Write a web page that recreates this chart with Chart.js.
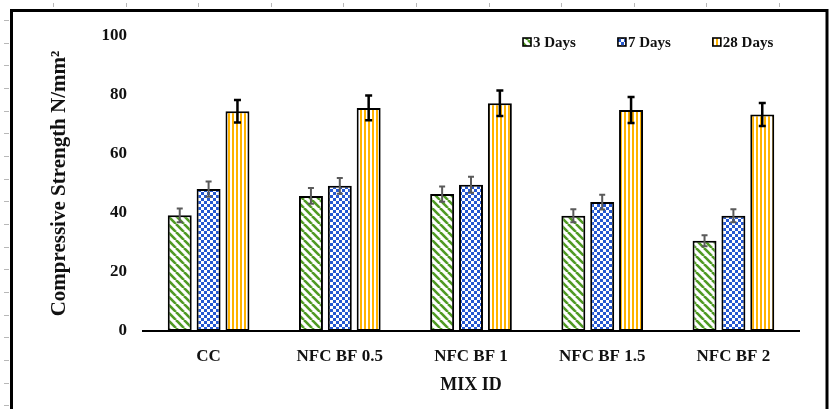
<!DOCTYPE html>
<html><head><meta charset="utf-8">
<script src="https://cdn.jsdelivr.net/npm/chart.js@4.4.1/dist/chart.umd.min.js"></script>
<style>html,body{margin:0;padding:0;background:#fff;overflow:hidden}#wrap{width:830px;height:409px;position:relative}</style>
</head><body><div id="wrap"><canvas id="c" width="830" height="409"></canvas></div>
<script>
const categories = ['CC', 'NFC BF 0.5', 'NFC BF 1', 'NFC BF 1.5', 'NFC BF 2'];
const seriesNames = ['3 Days', '7 Days', '28 Days'];
const days3 = [39.2, 45.8, 46.4, 39.1, 30.6];
const days7 = [48.1, 49.2, 49.6, 43.7, 39.1];
const days28 = [74.5, 75.6, 77.2, 74.9, 73.4];
const err3 = [2.3, 2.7, 2.6, 2.2, 1.9];
const err7 = [2.6, 2.7, 2.7, 2.5, 2.2];
const err28 = [3.8, 4.2, 4.3, 4.4, 3.9];
const yTicks = [0, 20, 40, 60, 80, 100];

const SERIF = "'Liberation Serif', 'Times New Roman', serif";
const canvas = document.getElementById('c');
const ctx0 = canvas.getContext('2d');

function mkPattern(w, h, draw) {
  const c = document.createElement('canvas');
  c.width = w; c.height = h;
  const g = c.getContext('2d');
  g.fillStyle = '#fff'; g.fillRect(0, 0, w, h);
  draw(g);
  return ctx0.createPattern(c, 'repeat');
}
const greenPat = mkPattern(8, 8, g => {
  g.strokeStyle = '#4f9a23'; g.lineWidth = 2.6;
  for (let k = -1; k <= 1; k++) { g.beginPath(); g.moveTo(k * 8, 0); g.lineTo(k * 8 + 8, 8); g.stroke(); }
});
const bluePat = mkPattern(6, 6, g => {
  g.fillStyle = '#2457d0'; g.fillRect(0, 0, 6, 6);
  g.fillStyle = '#fff'; g.fillRect(0, 0, 3, 3); g.fillRect(3, 3, 3, 3);
});
const orangePat = mkPattern(4, 1, g => {
  g.fillStyle = '#ffb300'; g.fillRect(0, 0, 2, 1);
});

const errors = [err3, err7, err28];
const errStyle = [
  { color: '#5a5a5a', width: 2, cap: 3 },
  { color: '#5a5a5a', width: 2, cap: 3 },
  { color: '#000000', width: 2.5, cap: 3.5 }
];

const errorBars = {
  id: 'errorBars',
  afterDatasetsDraw(chart) {
    const { ctx } = chart;
    const ys = chart.scales.y;
    chart.data.datasets.forEach((ds, i) => {
      const meta = chart.getDatasetMeta(i);
      const st = errStyle[i];
      meta.data.forEach((bar, j) => {
        const v = ds.data[j], e = errors[i][j];
        const yT = ys.getPixelForValue(v + e), yB = ys.getPixelForValue(v - e);
        ctx.save();
        ctx.strokeStyle = st.color; ctx.lineWidth = st.width;
        ctx.beginPath();
        ctx.moveTo(bar.x, yT); ctx.lineTo(bar.x, yB);
        ctx.moveTo(bar.x - st.cap, yT); ctx.lineTo(bar.x + st.cap, yT);
        ctx.moveTo(bar.x - st.cap, yB); ctx.lineTo(bar.x + st.cap, yB);
        ctx.stroke();
        ctx.restore();
      });
    });
  }
};

const legendBoxes = {
  id: 'legendBoxes',
  afterDraw(chart) {
    const { ctx, chartArea } = chart;
    ctx.save();
    ctx.font = 'bold 15px ' + SERIF;
    ctx.textBaseline = 'middle';
    ctx.textAlign = 'left';
    let x = chartArea.right - 276;
    const yc = 42;
    chart.data.datasets.forEach(ds => {
      ctx.fillStyle = ds.backgroundColor;
      ctx.fillRect(x, yc - 4, 8, 8);
      ctx.strokeStyle = '#000'; ctx.lineWidth = 1.6;
      ctx.strokeRect(x, yc - 4, 8, 8);
      ctx.fillStyle = '#111';
      ctx.fillText(ds.label, x + 10, yc + 1);
      x += 10 + ctx.measureText(ds.label).width + 42;
    });
    ctx.restore();
  }
};

const frame = {
  id: 'frame',
  beforeDraw(chart) {
    const { ctx } = chart;
    ctx.save();
    ctx.fillStyle = '#fff'; ctx.fillRect(0, 0, 830, 409);
    ctx.strokeStyle = '#b8b8b8'; ctx.lineWidth = 1;
    for (let k = 0; k < 11; k++) {
      const x = Math.round(53 + k * 72.6) + 0.5;
      ctx.beginPath(); ctx.moveTo(x, 3); ctx.lineTo(x, 7); ctx.stroke();
    }
    for (let k = 0; k < 18; k++) {
      const y = Math.round(20 + k * 22.67) + 0.5;
      ctx.beginPath(); ctx.moveTo(4, y); ctx.lineTo(9, y); ctx.stroke();
    }
    ctx.strokeStyle = '#000'; ctx.lineWidth = 3;
    ctx.strokeRect(11.5, 10.5, 815.5, 420);
    ctx.restore();
  }
};

new Chart(canvas, {
  type: 'bar',
  data: {
    labels: categories,
    datasets: [
      { label: seriesNames[0], data: days3, backgroundColor: greenPat },
      { label: seriesNames[1], data: days7, backgroundColor: bluePat },
      { label: seriesNames[2], data: days28, backgroundColor: orangePat }
    ].map(d => Object.assign(d, { borderColor: '#000', borderWidth: 2, borderSkipped: false, categoryPercentage: 0.66, barPercentage: 0.83 }))
  },
  options: {
    responsive: false,
    animation: false,
    layout: { padding: { left: 0, right: 31, top: 36, bottom: 0 } },
    plugins: { legend: { display: false }, tooltip: { enabled: false } },
    scales: {
      x: {
        grid: { display: false, drawTicks: false },
        border: { display: true, color: '#000', width: 2 },
        ticks: { color: '#111', font: { family: SERIF, size: 17, weight: 'bold' }, padding: 15, maxRotation: 0 },
        title: { display: true, text: 'MIX ID', color: '#111', font: { family: SERIF, size: 18, weight: 'bold' }, padding: { top: 0, bottom: 13 } },
        afterFit(s) { s.height = 78; }
      },
      y: {
        min: 0, max: 100,
        grid: { display: false, drawTicks: false },
        border: { display: false },
        afterBuildTicks(s) { s.ticks = yTicks.map(v => ({ value: v })); },
        ticks: { color: '#111', font: { family: SERIF, size: 17, weight: 'bold' }, padding: 16 },
        title: { display: true, text: 'Compressive Strength N/mm²', color: '#111', font: { family: SERIF, size: 21, weight: 'bold' }, padding: { top: 47, bottom: 0 } },
        afterFit(s) { s.width = 143; }
      }
    }
  },
  plugins: [frame, errorBars, legendBoxes]
});
</script>
</body></html>
